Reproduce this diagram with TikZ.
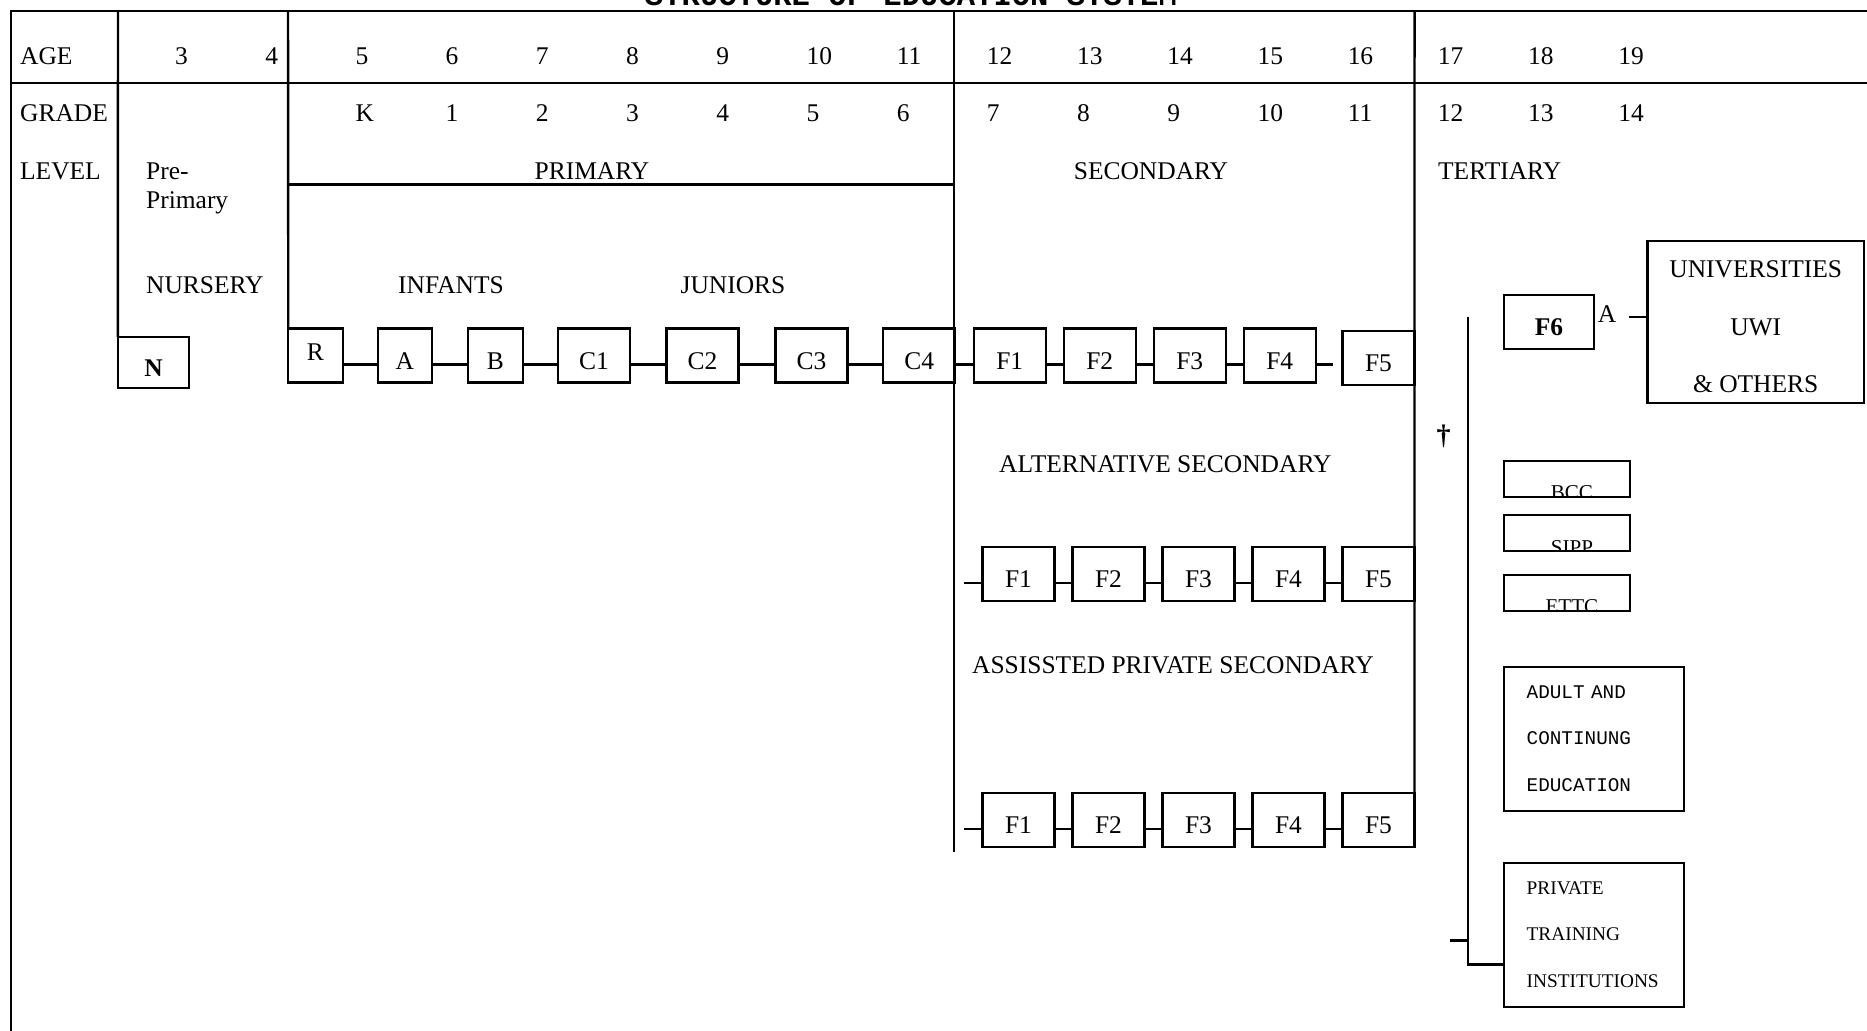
\documentclass[tikz,border=0pt]{standalone}
\usepackage{fontspec}
\setmainfont{Liberation Serif}
\setmonofont{Liberation Mono}
\usetikzlibrary{calc, positioning}

\begin{document}
\begin{tikzpicture}[x=0.02cm, y=-0.02cm, line width=1.3pt,
  every node/.style={font=\fontsize{14.5}{16.5}\selectfont},
  lbl/.style={anchor=base west, inner sep=0pt},
  formbox/.style={draw, inner sep=0pt, outer sep=0pt, minimum width=1.44cm,
    minimum height=1.08cm, text height=15.5pt, text depth=0pt},
  smallform/.style={formbox, minimum width=1.09cm},
  cutbox/.style={draw, inner sep=0pt, outer sep=0pt, minimum width=2.53cm, minimum height=0.72cm,
    path picture={\node[anchor=base, inner sep=0pt, font=\fontsize{12}{14}\selectfont]
      at ([xshift=0.1cm, yshift=-0.06cm]path picture bounding box.south) {#1};}},
  listbox/.style={draw, outer sep=0pt, inner ysep=0pt, inner xsep=0.46cm,
    text width=2.69cm, minimum height=2.88cm, align=left}]

  \useasboundingbox (0,0) rectangle (1867,1031);

  %% Title (cut at the top edge)
  \node[anchor=base, inner sep=0pt, font=\ttfamily\bfseries\fontsize{17.4}{20}\selectfont]
    (title) at (911,6) {STRUCTURE OF EDUCATION SYSTEM};

  %% Frame
  \draw (10.7,1031) -- (10.7,10.7) -- (1867,10.7);
  \draw (10.7,83.3) -- (1867,83.3);
  \draw (288.1,184.6) -- (953.8,184.6);

  %% Row heads
  \node[lbl] (agehd) at (19,64) {AGE};
  \node[lbl] (gradehd) at (19,121.7) {GRADE};
  \node[lbl] (levelhd) at (19,179) {LEVEL};
  \foreach \a [count=\k from 0] in {3,...,19}{
    \node[lbl] (age\a) at ({174+90.2*\k},64) {\a};
  }
  \foreach \g [count=\k from 2] in {K,1,2,3,4,5,6,7,8,9,10,11,12,13,14}{
    \node[lbl] (grd\k) at ({174+90.2*\k},121.7) {\g};
  }

  %% Levels
  \node[anchor=north west, inner sep=0pt, align=left] (preprim) at (145,162) {Pre-\\Primary};
  \node[lbl, anchor=base] (primhd) at (592,179) {PRIMARY};
  \node[lbl, anchor=base] (sechd) at (1151,179) {SECONDARY};
  \node[lbl] (terthd) at (1437,179) {TERTIARY};
  \node[lbl] (nurhd) at (145,293) {NURSERY};
  \node[lbl, anchor=base] (infhd) at (451,293) {INFANTS};
  \node[lbl, anchor=base] (junhd) at (733,293) {JUNIORS};
  \node[lbl] (althd) at (998,472.6) {ALTERNATIVE SECONDARY};
  \node[lbl] (apvhd) at (971,673.3) {ASSISSTED PRIVATE SECONDARY};

  %% Nursery and primary
  \node[formbox, minimum width=1.43cm, minimum height=1.02cm, font=\bfseries\fontsize{14.5}{16.5}\selectfont]
    (nur) at (153.6,362.6) {N};
  \node[smallform, text height=6pt] (rec) at (315.4,355.5) {R};
  \node[smallform] (infA) at (404.9,355.5) {A};
  \node[smallform] (infB) at (495.4,355.5) {B};
  \foreach \i/\x in {1/594.1, 2/702.5, 3/811.5, 4/919.2}{
    \node[formbox] (jc\i) at (\x,355.5) {C\i};
  }

  %% Secondary
  \foreach \i in {1,...,4}{
    \node[formbox] (sec\i) at ({1009.7+90*(\i-1)},355.5) {F\i};
  }
  \node[formbox] (sec5) at (1378.5,358) {F5};
  \foreach \i in {1,...,5}{
    \node[formbox] (alt\i) at ({1018.5+90*(\i-1)},574) {F\i};
    \node[formbox] (apv\i) at ({1018.5+90*(\i-1)},819.7) {F\i};
  }

  %% Column lines
  \draw (117.9,10.7) -- (nur.north west);
  \draw (288.1,10.7) -- (rec.north west);
  \draw (953.8,10.7) -- (953.8,852);
  \draw (1414.6,10.7) -- (apv5.south east);

  %% Chains
  \foreach \a/\b in {rec/infA, infA/infB, infB/jc1, jc1/jc2, jc2/jc3, jc3/jc4, jc4/sec1,
                     sec1/sec2, sec2/sec3, sec3/sec4}{
    \draw ($(\a.east)+(0,9)$) -- ($(\b.west)+(0,9)$);
  }
  \coordinate (sectail) at (1333,364.5);
  \draw ($(sec4.east)+(0,9)$) -- (sectail);
  \foreach \i/\j in {1/2, 2/3, 3/4, 4/5}{
    \draw ($(alt\i.east)+(0,9)$) -- ($(alt\j.west)+(0,9)$);
    \draw ($(apv\i.east)+(0,9)$) -- ($(apv\j.west)+(0,9)$);
  }
  \coordinate (altin) at (964,583);
  \coordinate (apvin) at (964,828.7);
  \draw (altin) -- (altin -| alt1.west);
  \draw (apvin) -- (apvin -| apv1.west);

  %% Tertiary
  \node[formbox, minimum width=1.81cm, font=\bfseries\fontsize{14.5}{16.5}\selectfont] (fsix) at (1549,322) {F6};
  \node[anchor=base, inner sep=0pt] (alabel) at (1607,322) {A};
  \node[draw, inner sep=0pt, outer sep=0pt, minimum width=4.33cm, minimum height=3.24cm, align=center,
    font=\fontsize{14.5}{32.7}\selectfont] (univ) at (1755.7,321.7)
    {\rule{0pt}{15.5pt}UNIVERSITIES\\UWI\\\& OTHERS};
  \coordinate (adash) at (1629,317);
  \draw (adash) -- (adash -| univ.west);

  \node[font=\bfseries\fontsize{16}{18}\selectfont] (cross) at (1443.7,436.7) {†};

  \node[cutbox=BCC] (bcc) at (1566.9,478.7) {};
  \node[cutbox=SIPP] (sipp) at (1566.9,533) {};
  \node[cutbox=ETTC] (ettc) at (1566.9,592.8) {};

  \node[listbox, font=\ttfamily\fontsize{11}{26.2}\selectfont] (adult) at (1593.9,738.7)
    {ADULT AND\\CONTINUNG\\EDUCATION};
  \node[listbox, font=\fontsize{11}{26.6}\selectfont] (ptrain) at (1593.9,934.7)
    {PRIVATE\\TRAINING\\INSTITUTIONS};

  \coordinate (brtop) at (1468,316.7);
  \coordinate (brbot) at (1468,964.5);
  \draw (brtop) -- (brbot) -- (brbot -| ptrain.west);
  \coordinate (brin) at (1450,940.6);
  \draw (brin) -- (brin -| brtop);

\end{tikzpicture}
\end{document}
